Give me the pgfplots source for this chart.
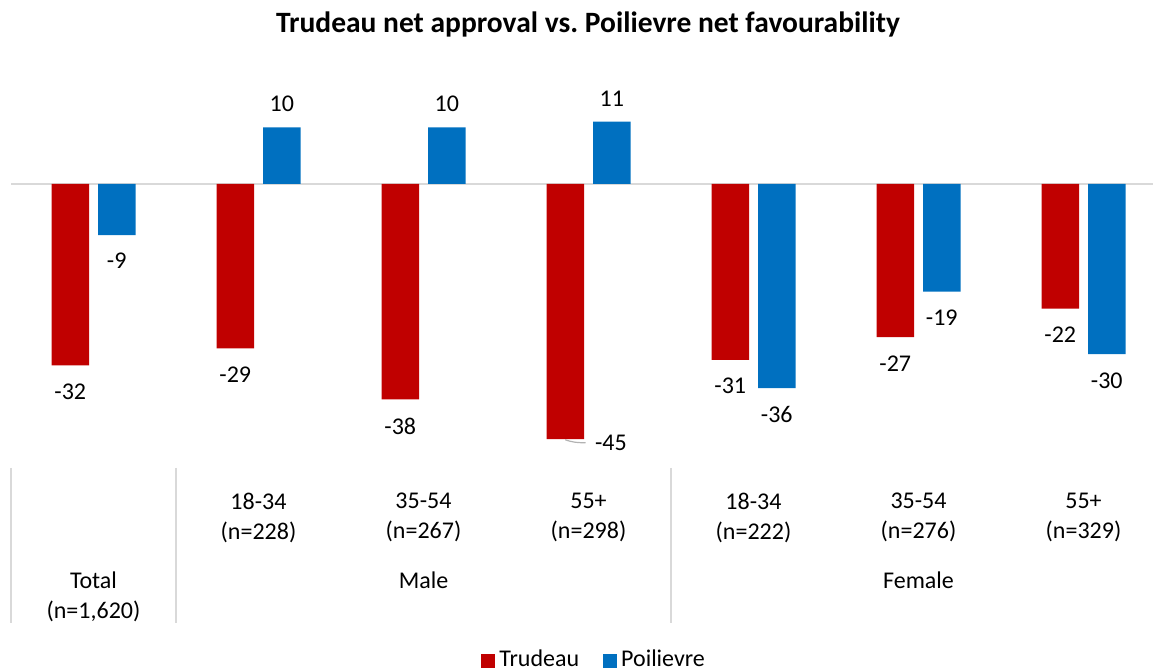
\documentclass[border=0pt]{standalone}
\usepackage{pgfplots}
\pgfplotsset{compat=1.18}
\usepackage{fontspec}
\setmainfont{Carlito}
\definecolor{trud}{HTML}{C00000}
\definecolor{poil}{HTML}{0070C0}
\definecolor{sepg}{HTML}{D9D9D9}
\begin{document}
\begin{tikzpicture}
\path[use as bounding box] (-5.5pt,-102pt) rectangle (571pt,234pt);
\begin{axis}[
  scale only axis, width=571pt, height=204pt,
  xmin=-0.5, xmax=6.4212, ymin=-50.09, ymax=21.87,
  axis line style={draw=none},
  ytick=\empty,
  xtick={0,1,2,3,4,5,6},
  xticklabels={{},{18-34\\(n=228)},{35-54\\(n=267)},{55+\\(n=298)},{18-34\\(n=222)},{35-54\\(n=276)},{55+\\(n=329)}},
  major tick length=0pt,
  xtick style={draw=none},
  xticklabel style={align=center, font=\fontsize{12}{15}\selectfont, inner sep=0pt, yshift=-12.5pt},
  clip=false,
  /pgf/number format/assume math mode=true,
  legend style={at={(0.5115,-0.4707)}, anchor=center, draw=none, fill=none,
    legend columns=2, font=\fontsize{12}{14}\selectfont,
    /tikz/every even column/.append style={column sep=10pt}},
  legend image code/.code={\fill[#1] (-1.5pt,-4pt) rectangle (5.5pt,3pt);},
]
\addplot[forget plot, draw=sepg, line width=1pt] coordinates {(-0.5,0) (6.4212,0)};
\addplot[ybar, bar width=18.75pt, bar shift=-11.625pt, fill=trud, draw=none,
  nodes near coords, nodes near coords align={vertical},
  every node near coord/.append style={font=\fontsize{12}{14}\selectfont, text=black, inner sep=0pt, xshift=-11.625pt},
  coordinate style/.condition={y>=0}{yshift=7.5pt},
  coordinate style/.condition={y<0 && y>-40}{yshift=-9pt},
  coordinate style/.condition={y<-40}{anchor=west, xshift=14.75pt, yshift=-2pt},
] coordinates {(0,-32) (1,-29) (2,-38) (3,-45) (4,-31) (5,-27) (6,-22)};
\addlegendentry{Trudeau}
\addplot[ybar, bar width=18.75pt, bar shift=11.625pt, fill=poil, draw=none,
  nodes near coords, nodes near coords align={vertical},
  every node near coord/.append style={font=\fontsize{12}{14}\selectfont, text=black, inner sep=0pt, xshift=11.625pt},
  coordinate style/.condition={y>=0}{yshift=7.5pt},
  coordinate style/.condition={y<0}{yshift=-9pt},
] coordinates {(0,-9) (1,10) (2,10) (3,11) (4,-36) (5,-19) (6,-30)};
\addlegendentry{Poilievre}
\draw[gray!60, line width=0.6pt] ([xshift=-11.6pt, yshift=-0.3pt]axis cs:3,-45) to[out=-20, in=180] ([xshift=-1.5pt, yshift=-1.8pt]axis cs:3,-45);
\draw[sepg, line width=1pt] (axis cs:-0.5,-50.09) -- ++(0pt,-77.5pt);
\draw[sepg, line width=1pt] (axis cs:0.5,-50.09) -- ++(0pt,-77.5pt);
\draw[sepg, line width=1pt] (axis cs:3.5,-50.09) -- ++(0pt,-77.5pt);
\node[anchor=north, align=center, inner sep=0pt, font=\fontsize{12}{15}\selectfont] at ([yshift=-51.5pt]axis cs:0,-50.09) {Total\\(n=1,620)};
\node[anchor=north, align=center, inner sep=0pt, font=\fontsize{12}{15}\selectfont] at ([yshift=-51.5pt]axis cs:2,-50.09) {Male};
\node[anchor=north, align=center, inner sep=0pt, font=\fontsize{12}{15}\selectfont] at ([yshift=-51.5pt]axis cs:5,-50.09) {Female};
\end{axis}
\node[font=\bfseries\fontsize{14.75}{17}\selectfont] at (288.5pt,222pt) {Trudeau net approval vs.\ Poilievre net favourability};
\end{tikzpicture}
\end{document}
